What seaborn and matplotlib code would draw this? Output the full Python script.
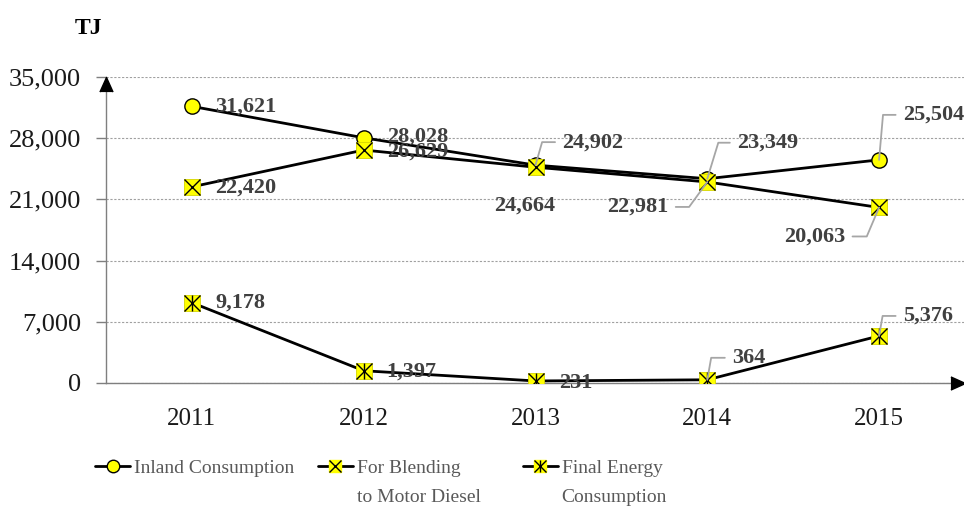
import numpy as np
import pandas as pd
import seaborn as sns
import matplotlib.pyplot as plt
from matplotlib.lines import Line2D
from matplotlib.ticker import FuncFormatter, MultipleLocator

years = ["2011", "2012", "2013", "2014", "2015"]
inland = [31621, 28028, 24902, 23349, 25504]
blending = [22420, 26629, 24664, 22981, 20063]
final = [9178, 1397, 231, 364, 5376]
series_first = ["Inland Consumption", "For Blending", "Final Energy"]
series_second = ["", "to Motor Diesel", "Consumption"]
yticks = [0, 7000, 14000, 21000, 28000, 35000]

pos = np.arange(len(years))
df = pd.DataFrame({
    "pos": np.tile(pos, 3),
    "value": inland + blending + final,
    "series": np.repeat(["inland", "blending", "final"], len(years)),
})

sns.set_theme(style="white")
plt.rcParams["font.family"] = ["Liberation Serif", "DejaVu Serif"]

fig = plt.figure(figsize=(9.64, 5.12), dpi=100)
ax = fig.add_axes([0.110, 0.252, 0.891, 0.598])

sns.lineplot(data=df, x="pos", y="value", hue="series", palette=["black"] * 3,
             linewidth=2, legend=False, sort=False, ax=ax, zorder=3)

yel = "#ffff00"
# markers
ax.plot(pos, inland, "o", ms=11, mfc=yel, mec="black", mew=1, zorder=5)
ax.plot(pos, blending, "s", ms=12, mfc=yel, mec="#d4d400", mew=0.6, zorder=5)
ax.plot(pos, blending, "x", ms=12, color="black", mew=1, zorder=6)
ax.plot(pos, final, "s", ms=12, mfc=yel, mec="#d4d400", mew=0.6, zorder=5)
ax.plot(pos, final, "x", ms=12, color="black", mew=1, zorder=6)
ax.plot(pos, final, "|", ms=12, color="black", mew=1, zorder=6)

ax.set_xlim(-0.5, 4.5)
ax.set_ylim(0, 35000)
ax.set_xlabel("")
ax.set_ylabel("")
ax.set_xticks(pos)
ax.set_xticklabels(years)
ax.xaxis.set_minor_locator(MultipleLocator(1, offset=0.5))
ax.tick_params(axis="x", which="major", length=0, pad=18, labelsize=18, labelcolor="#1a1a1a")
ax.tick_params(axis="x", which="minor", length=7, width=1, color="#7f7f7f", direction="out")
ax.set_yticks(yticks)
ax.yaxis.set_major_formatter(FuncFormatter(lambda v, p: f"{int(v):,}"))
ax.tick_params(axis="y", length=7, width=1, color="#7f7f7f", direction="out", pad=11,
               labelsize=19, labelcolor="#1a1a1a", left=True)
ax.yaxis.grid(True, color="#a0a0a0", linestyle=(0, (2, 1.5)), linewidth=0.8)
ax.xaxis.grid(False)
for s in ["top", "right"]:
    ax.spines[s].set_visible(False)
for s in ["left", "bottom"]:
    ax.spines[s].set_color("#7f7f7f")
    ax.spines[s].set_linewidth(1)

# axis arrows
ax.plot(1, 0, marker=[(-1, -0.45), (0, 0), (-1, 0.45)], ms=21, color="black",
        transform=ax.transAxes, clip_on=False, zorder=7)
ax.plot(0, 1, marker=[(-0.45, -1), (0, 0), (0.45, -1)], ms=21, color="black",
        transform=ax.transAxes, clip_on=False, zorder=7)

# data labels: (dx, dy, ha, leader angle or None)
lab_inland = [(23, 0, "left", None), (23, 1, "left", None), (27, 23, "left", 74),
              (30, 36, "left", 73), (24, 45, "left", 85)]
lab_blend = [(23, -1, "left", None), (23, -2, "left", None), (-11, -38, "center", None),
             (-39, -25, "right", 54), (-34, -29, "right", 67)]
lab_final = [(23, 0, "left", None), (23, -1, "left", None), (24, -2, "left", None),
             (25, 22, "left", 80), (24, 20, "left", 80)]

for vals, labs in [(inland, lab_inland), (blending, lab_blend), (final, lab_final)]:
    for i, (v, (dx, dy, ha, ang)) in enumerate(zip(vals, labs)):
        kw = {}
        if ang is not None:
            rp = (0, 0.5) if ha == "left" else (1, 0.5)
            kw["arrowprops"] = dict(arrowstyle="-", color="#a6a6a6", lw=1.3, shrinkA=3,
                                    shrinkB=0, relpos=rp,
                                    connectionstyle=f"angle,angleA=0,angleB={ang},rad=0")
        ax.annotate(f"{v:,}", xy=(pos[i], v), xytext=(dx, dy), textcoords="offset pixels",
                    ha=ha, va="center", fontsize=16, fontweight="bold", color="#404040",
                    zorder=8, **kw)

fig.text(0.077, 0.945, "TJ", fontsize=17, fontweight="bold", color="black", va="center")

# legend
h1 = Line2D([], [], color="black", lw=2, marker="o", ms=9, mfc=yel, mec="black", mew=1)
h2 = (Line2D([], [], color="black", lw=2, marker="s", ms=9, mfc=yel, mec=yel),
      Line2D([], [], ls="none", marker="x", ms=9, color="black", mew=1))
h3 = (Line2D([], [], color="black", lw=2, marker="s", ms=9, mfc=yel, mec=yel),
      Line2D([], [], ls="none", marker="x", ms=9, color="black", mew=1),
      Line2D([], [], ls="none", marker="|", ms=9, color="black", mew=1))
# pad the short first line so the column is as wide as its second line
first_padded = [series_first[0], series_first[1] + "\u00a0" * 8, series_first[2]]
leg = fig.legend([h1, h2, h3], first_padded, loc="center left", bbox_to_anchor=(0.099, 1 - 468 / 512),
                 ncol=3, frameon=False, fontsize=14, handlelength=1.8, handletextpad=0.2,
                 columnspacing=1.2, borderpad=0, borderaxespad=0)
for t in leg.get_texts():
    t.set_color("#595959")

# second lines of the wrapped legend labels
fig.canvas.draw()
r = fig.canvas.get_renderer()
for t, extra in zip(leg.get_texts(), series_second):
    if extra:
        bb = t.get_window_extent(r)
        fig.text(bb.x0 / fig.bbox.width, (bb.y0 + bb.height / 2 - 29) / fig.bbox.height,
                 extra, fontsize=14, color="#595959", va="center", ha="left")

fig.savefig("out.png", dpi=100)
